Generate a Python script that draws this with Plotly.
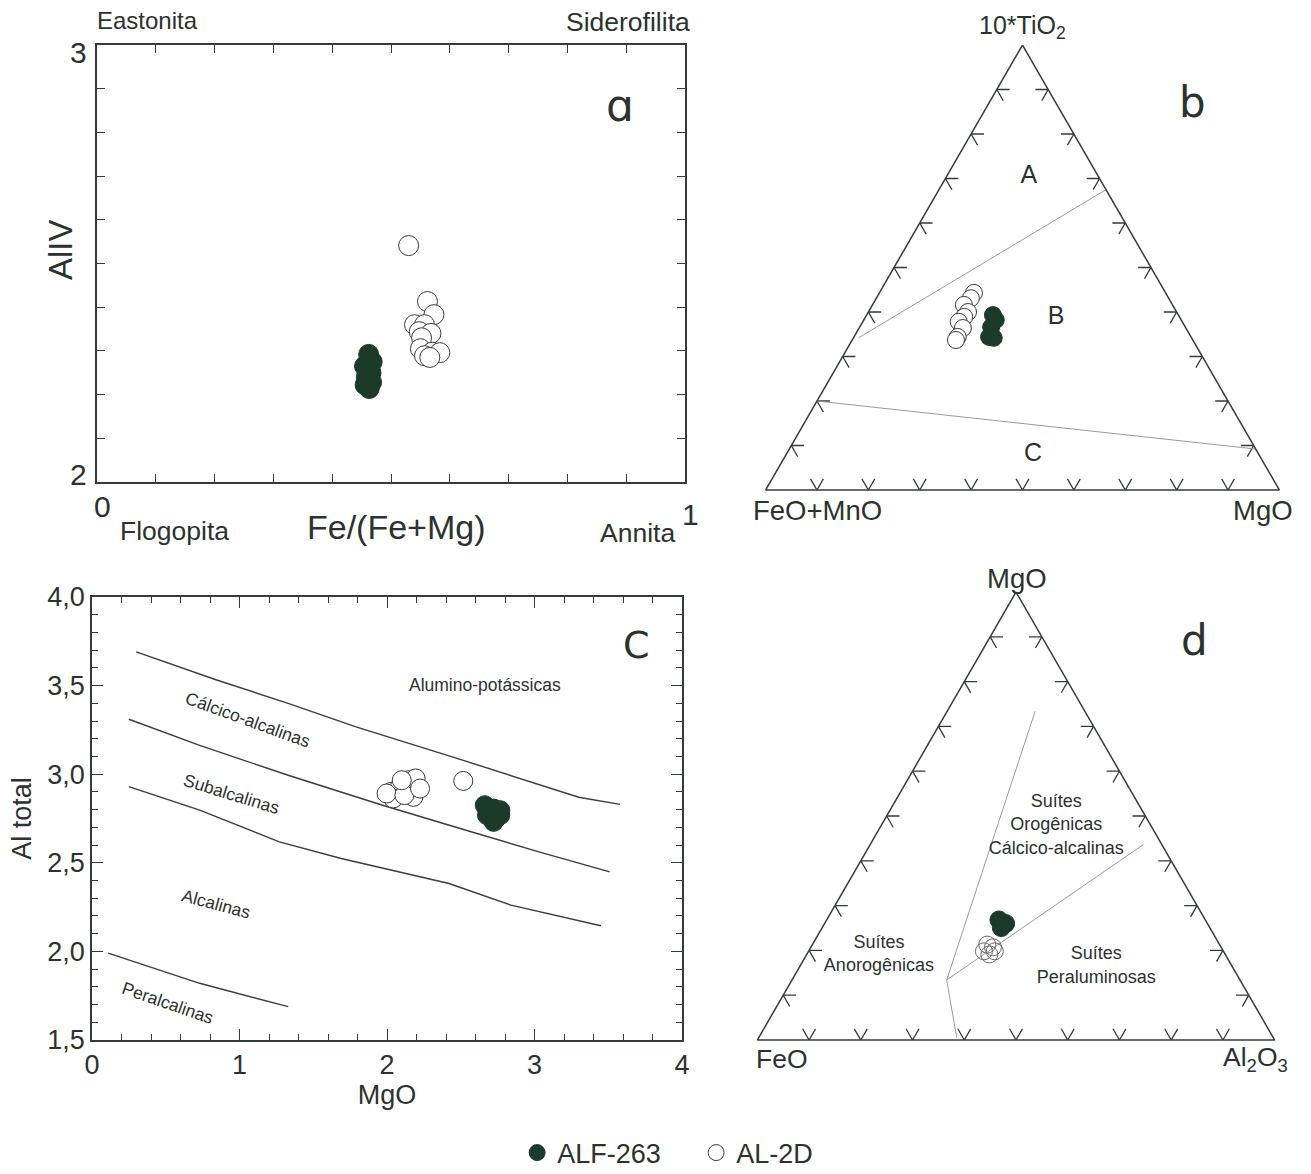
import plotly.graph_objects as go

W, H = 1311, 1174
def px(x): return x / W
def py(y): return 1 - y / H

TXT = "#2c322e"
LINE = "#353b37"
FILL = "#1c3a29"
GRAYL = "#9a9a9a"
FONT = "Liberation Sans, Arial, sans-serif"

# ---------------- Panel a : AlIV vs Fe/(Fe+Mg) ----------------
a_alf_x = [0.462, 0.468, 0.455, 0.466, 0.458, 0.467, 0.456, 0.463]
a_alf_y = [2.292, 2.275, 2.265, 2.250, 2.240, 2.228, 2.222, 2.214]
a_al2d_x = [0.530, 0.562, 0.573, 0.540, 0.557, 0.548, 0.568, 0.552, 0.550, 0.570, 0.583, 0.557, 0.566]
a_al2d_y = [2.541, 2.413, 2.383, 2.360, 2.360, 2.344, 2.340, 2.330, 2.305, 2.297, 2.296, 2.289, 2.285]

# ---------------- Panel c : Al total vs MgO ----------------
c_alf_x = [2.663, 2.723, 2.768, 2.678, 2.723, 2.768, 2.693, 2.740]
c_alf_y = [2.825, 2.806, 2.797, 2.769, 2.731, 2.769, 2.806, 2.750]
c_al2d_x = [2.027, 2.088, 2.148, 2.194, 2.042, 2.179, 1.997, 2.118, 2.224, 2.100, 2.517]
c_al2d_y = [2.900, 2.930, 2.966, 2.976, 2.863, 2.872, 2.891, 2.882, 2.919, 2.966, 2.962]

c_line1_x = [0.30, 0.85, 1.33, 1.79, 2.48, 3.03, 3.30, 3.58]
c_line1_y = [3.69, 3.53, 3.40, 3.267, 3.088, 2.94, 2.87, 2.83]
c_line2_x = [0.25, 0.73, 1.33, 1.97, 2.57, 3.03, 3.51]
c_line2_y = [3.31, 3.163, 2.994, 2.825, 2.675, 2.562, 2.449]
c_line3_x = [0.25, 0.73, 1.27, 1.69, 2.42, 2.84, 3.45]
c_line3_y = [2.93, 2.797, 2.618, 2.524, 2.383, 2.261, 2.145]
c_line4_x = [0.11, 0.73, 1.33]
c_line4_y = [1.99, 1.82, 1.688]

c_lab_text = ["Alumino-potássicas", "Cálcico-alcalinas", "Subalcalinas", "Alcalinas", "Peralcalinas"]
c_lab_x = [2.663, 1.06, 0.944, 0.841, 0.514]
c_lab_y = [3.506, 3.305, 2.891, 2.265, 1.707]
c_lab_ang = [0, 20, 17, 15, 19]

# ---------------- Panel b : ternary 10*TiO2 / FeO+MnO / MgO ----------------
# a = 10*TiO2 (top), b = FeO+MnO (left), c = MgO (right)
b_alf_a = [0.393, 0.382, 0.366, 0.344, 0.342]
b_alf_b = [0.361, 0.361, 0.378, 0.393, 0.385]
b_alf_c = [0.246, 0.257, 0.256, 0.263, 0.273]
b_al2d_a = [0.443, 0.431, 0.416, 0.400, 0.389, 0.378, 0.364, 0.344, 0.337]
b_al2d_b = [0.373, 0.385, 0.406, 0.406, 0.419, 0.435, 0.434, 0.454, 0.461]
b_al2d_c = [0.184, 0.184, 0.178, 0.194, 0.192, 0.187, 0.202, 0.202, 0.202]
b_bound1_a = [0.342, 0.675]
b_bound1_b = [0.648, 0.0]
b_bound1_c = [0.010, 0.325]
b_bound2_a = [0.200, 0.092]
b_bound2_b = [0.800, 0.0]
b_bound2_c = [0.000, 0.908]
b_lab_text = ["A", "B", "C"]
b_lab_a = [0.703, 0.387, 0.079]
b_lab_b = [0.136, 0.241, 0.440]
b_lab_c = [0.161, 0.372, 0.481]

# ---------------- Panel d : ternary MgO / FeO / Al2O3 ----------------
# a = MgO (top), b = FeO (left), c = Al2O3 (right)
d_alf_a = [0.268, 0.260, 0.251]
d_alf_b = [0.399, 0.390, 0.403]
d_alf_c = [0.333, 0.350, 0.346]
d_al2d_a = [0.213, 0.207, 0.198, 0.191, 0.198]
d_al2d_b = [0.449, 0.441, 0.463, 0.456, 0.442]
d_al2d_c = [0.338, 0.352, 0.339, 0.353, 0.360]
d_bound1_a = [0.734, 0.134, 0.005]
d_bound1_b = [0.096, 0.567, 0.612]
d_bound1_c = [0.170, 0.299, 0.383]
d_bound2_a = [0.134, 0.436]
d_bound2_b = [0.567, 0.036]
d_bound2_c = [0.299, 0.528]
d_lab_text = ["Suítes<br>Orogênicas<br>Cálcico-alcalinas", "Suítes<br>Anorogênicas", "Suítes<br>Peraluminosas"]
d_lab_a = [0.478, 0.190, 0.164]
d_lab_b = [0.183, 0.670, 0.263]
d_lab_c = [0.339, 0.140, 0.573]

tern_ticks = [0.1, 0.2, 0.3, 0.4, 0.5, 0.6, 0.7, 0.8, 0.9]
CHEV = 0.025


def chevrons(ticks, L):
    A, B, C = [], [], []
    for t in ticks:
        for pts in (
            [(L, 1 - t - L, t), (0, 1 - t, t), (L, 1 - t, t - L)],          # bottom edge
            [(t, 1 - t - L, L), (t, 1 - t, 0), (t - L, 1 - t, L)],          # left edge
            [(t, L, 1 - t - L), (t, 0, 1 - t), (t - L, L, 1 - t)],          # right edge
        ):
            for p in pts:
                A.append(p[0]); B.append(p[1]); C.append(p[2])
            A.append(None); B.append(None); C.append(None)
    return A, B, C


fig = go.Figure()

open_marker = lambda s: dict(symbol="circle", size=s, color="white", line=dict(color="#3a3a3a", width=1))
fill_marker = lambda s: dict(symbol="circle", size=s, color=FILL, line=dict(color=FILL, width=1))

# Panel a
fig.add_trace(go.Scatter(x=a_alf_x, y=a_alf_y, mode="markers", name="ALF-263",
                         marker=fill_marker(20), xaxis="x", yaxis="y", legendgroup="alf"))
fig.add_trace(go.Scatter(x=a_al2d_x, y=a_al2d_y, mode="markers", name="AL-2D",
                         marker=open_marker(20), xaxis="x", yaxis="y", legendgroup="al2d"))

# Panel c
for lx, ly in ((c_line1_x, c_line1_y), (c_line2_x, c_line2_y), (c_line3_x, c_line3_y), (c_line4_x, c_line4_y)):
    fig.add_trace(go.Scatter(x=lx, y=ly, mode="lines", line=dict(color="#3c3c3c", width=1.4),
                             showlegend=False, hoverinfo="skip", xaxis="x2", yaxis="y2"))
fig.add_trace(go.Scatter(x=c_al2d_x, y=c_al2d_y, mode="markers", name="AL-2D", showlegend=False,
                         marker=open_marker(19), xaxis="x2", yaxis="y2", legendgroup="al2d"))
fig.add_trace(go.Scatter(x=c_alf_x, y=c_alf_y, mode="markers", name="ALF-263", showlegend=False,
                         marker=fill_marker(19), xaxis="x2", yaxis="y2", legendgroup="alf"))

# Panel b (ternary)
ca, cb, cc = chevrons(tern_ticks, CHEV)
fig.add_trace(go.Scatterternary(a=ca, b=cb, c=cc, mode="lines", line=dict(color=LINE, width=1.3),
                                showlegend=False, hoverinfo="skip", subplot="ternary", connectgaps=False))
for la, lb, lc in ((b_bound1_a, b_bound1_b, b_bound1_c), (b_bound2_a, b_bound2_b, b_bound2_c)):
    fig.add_trace(go.Scatterternary(a=la, b=lb, c=lc, mode="lines", line=dict(color=GRAYL, width=1),
                                    showlegend=False, hoverinfo="skip", subplot="ternary"))
fig.add_trace(go.Scatterternary(a=b_lab_a, b=b_lab_b, c=b_lab_c, mode="text", text=b_lab_text,
                                textfont=dict(family=FONT, size=25, color=TXT), showlegend=False,
                                hoverinfo="skip", subplot="ternary"))
fig.add_trace(go.Scatterternary(a=b_al2d_a, b=b_al2d_b, c=b_al2d_c, mode="markers", name="AL-2D",
                                showlegend=False, marker=open_marker(17), subplot="ternary", legendgroup="al2d"))
fig.add_trace(go.Scatterternary(a=b_alf_a, b=b_alf_b, c=b_alf_c, mode="markers", name="ALF-263",
                                showlegend=False, marker=fill_marker(17), subplot="ternary", legendgroup="alf"))

# Panel d (ternary)
fig.add_trace(go.Scatterternary(a=ca, b=cb, c=cc, mode="lines", line=dict(color=LINE, width=1.3),
                                showlegend=False, hoverinfo="skip", subplot="ternary2", connectgaps=False))
for la, lb, lc in ((d_bound1_a, d_bound1_b, d_bound1_c), (d_bound2_a, d_bound2_b, d_bound2_c)):
    fig.add_trace(go.Scatterternary(a=la, b=lb, c=lc, mode="lines", line=dict(color=GRAYL, width=1),
                                    showlegend=False, hoverinfo="skip", subplot="ternary2"))
fig.add_trace(go.Scatterternary(a=d_lab_a, b=d_lab_b, c=d_lab_c, mode="text", text=d_lab_text,
                                textfont=dict(family=FONT, size=18, color=TXT), showlegend=False,
                                hoverinfo="skip", subplot="ternary2"))
fig.add_trace(go.Scatterternary(a=d_alf_a, b=d_alf_b, c=d_alf_c, mode="markers", name="ALF-263",
                                showlegend=False, marker=fill_marker(18), subplot="ternary2", legendgroup="alf"))
fig.add_trace(go.Scatterternary(a=d_al2d_a, b=d_al2d_b, c=d_al2d_c, mode="markers", name="AL-2D",
                                showlegend=False, marker=dict(symbol="circle-open", size=17, color="#6a6a6a",
                                                              line=dict(width=1)),
                                subplot="ternary2", legendgroup="al2d"))

# Annotations
ann = []
def A(text, x, y, size, angle=0, ref="paper", xref=None, yref=None, align="center"):
    d = dict(text=text, x=x, y=y, showarrow=False, textangle=angle, align=align,
             font=dict(family=FONT, size=size, color=TXT), xanchor="center", yanchor="middle")
    if ref == "paper":
        d.update(xref="paper", yref="paper")
    else:
        d.update(xref=xref, yref=yref)
    ann.append(d)

# panel a
A("Eastonita", px(147), py(20), 24)
A("Siderofilita", px(628), py(22), 26.5)
A("Flogopita", px(175), py(531), 26.5)
A("Fe/(Fe+Mg)", px(396), py(527), 34)
A("Annita", px(637), py(533), 26.5)
A("0", px(102), py(507), 30)
A("1", px(690), py(514), 30)
A("3", px(78), py(52), 30)
A("2", px(78), py(474), 30)
A("AlIV", px(60), py(250), 33, angle=-90)
ann.append(dict(text="ɑ", x=px(620), y=py(78), xref="paper", yref="paper", showarrow=False,
                font=dict(family="DejaVu Sans", size=44, color=TXT)))
# panel b
A("10*TiO<sub>2</sub>", px(1022), py(27), 25)
A("FeO+MnO", px(817), py(510), 27.5)
A("MgO", px(1263), py(510), 27.5)
ann.append(dict(text="b", x=px(1208), y=py(76), xref="paper", yref="paper", showarrow=False,
                font=dict(family="DejaVu Sans", size=42, color=TXT)))
# panel c
for t, x, y, ang in zip(c_lab_text, c_lab_x, c_lab_y, c_lab_ang):
    A(t, x, y, 17.5, angle=ang, ref="data", xref="x2", yref="y2")
ann.append(dict(text="C", x=3.69, y=3.73, xref="x2", yref="y2", showarrow=False,
                font=dict(family="DejaVu Sans", size=38, color=TXT)))
# panel d
A("MgO", px(1017), py(578), 27.5)
A("FeO", px(782), py(1059), 26.5)
A("Al<sub>2</sub>O<sub>3</sub>", px(1255), py(1059), 26.5)
ann.append(dict(text="d", x=px(1210), y=py(640), xref="paper", yref="paper", showarrow=False,
                font=dict(family="DejaVu Sans", size=42, color=TXT)))

tern_axis = dict(showticklabels=False, ticks="", showgrid=False, showline=True,
                 linecolor=LINE, linewidth=1.5, title=dict(text=""))

fig.update_layout(
    width=W, height=H,
    margin=dict(l=0, r=0, t=0, b=0, autoexpand=False),
    paper_bgcolor="white", plot_bgcolor="white",
    separators=", ",
    font=dict(family=FONT, color=TXT),
    showlegend=True,
    legend=dict(orientation="h", x=0.531, xanchor="center", y=-0.003, yanchor="bottom",
                font=dict(family=FONT, size=27, color=TXT), bgcolor="rgba(0,0,0,0)",
                itemsizing="trace", entrywidth=134, entrywidthmode="pixels"),
    xaxis=dict(domain=[px(97), px(685)], anchor="y", range=[0, 1], dtick=0.1, tick0=0,
               showticklabels=False, ticks="inside", ticklen=8, tickcolor=LINE,
               showline=True, linecolor=LINE, linewidth=1.5, mirror="ticks",
               showgrid=False, zeroline=False),
    yaxis=dict(domain=[py(482), py(45)], anchor="x", range=[2, 3], dtick=0.1, tick0=2,
               showticklabels=False, ticks="inside", ticklen=8, tickcolor=LINE,
               showline=True, linecolor=LINE, linewidth=1.5, mirror="ticks",
               showgrid=False, zeroline=False),
    xaxis2=dict(domain=[px(92), px(682)], anchor="y2", range=[0, 4], dtick=1, tick0=0,
                ticks="inside", ticklen=11, tickcolor=LINE,
                minor=dict(dtick=0.2, ticks="inside", ticklen=6, tickcolor=LINE, showgrid=False),
                showline=True, linecolor=LINE, linewidth=1.5, mirror="ticks",
                showgrid=False, zeroline=False, tickfont=dict(size=27, color=TXT),
                title=dict(text="MgO", font=dict(size=27, color=TXT), standoff=2)),
    yaxis2=dict(domain=[py(1040), py(597)], anchor="x2", range=[1.5, 4.0], dtick=0.5, tick0=1.5,
                tickformat=".1f",
                ticks="inside", ticklen=11, tickcolor=LINE,
                minor=dict(dtick=0.1, ticks="inside", ticklen=6, tickcolor=LINE, showgrid=False),
                showline=True, linecolor=LINE, linewidth=1.5, mirror="ticks",
                showgrid=False, zeroline=False, tickfont=dict(size=27, color=TXT),
                title=dict(text="Al total", font=dict(size=27, color=TXT), standoff=8)),
    ternary=dict(domain=dict(x=[px(765), px(1280)], y=[py(490), py(45)]), sum=1,
                 bgcolor="white", aaxis=tern_axis, baxis=tern_axis, caxis=tern_axis),
    ternary2=dict(domain=dict(x=[px(757), px(1275)], y=[py(1040), py(592)]), sum=1,
                  bgcolor="white", aaxis=tern_axis, baxis=tern_axis, caxis=tern_axis),
    annotations=ann,
)

fig.write_html("out.html", config={"displayModeBar": False},
               post_script="document.body.style.margin='0px';")
